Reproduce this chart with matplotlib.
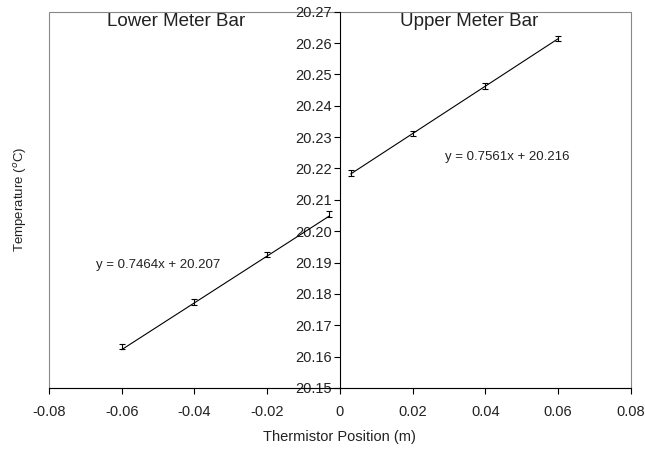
import numpy as np
import matplotlib
matplotlib.use("Agg")
import matplotlib.pyplot as plt
from matplotlib.patches import Rectangle

plt.rcParams['font.family'] = ['Liberation Sans', 'DejaVu Sans']

# Data
lower_x = [-0.06, -0.04, -0.02, -0.003]
lower_t = [20.1632, 20.1775, 20.1925, 20.2055]
upper_x = [0.003, 0.02, 0.04, 0.06]
upper_t = [20.2185, 20.2311, 20.2462, 20.2615]
err = 0.0009

lower_fit = (0.7464, 20.207)
upper_fit = (0.7561, 20.216)

fig = plt.figure(figsize=(6.45, 4.49), dpi=100)
ax = fig.add_axes([0.076, 0.136, 0.902, 0.838])

# trend lines over data range
for xs, (m, b) in ((lower_x, lower_fit), (upper_x, upper_fit)):
    xx = np.array([min(xs), max(xs)])
    ax.plot(xx, m * xx + b, color='black', lw=0.8)

ax.errorbar(lower_x + upper_x, lower_t + upper_t, yerr=err, fmt='none',
            ecolor='black', elinewidth=0.8, capsize=2.5, capthick=0.8)

ax.set_xlim(-0.08, 0.08)
ax.set_ylim(20.15, 20.27)
ax.set_xticks(np.arange(-0.08, 0.081, 0.02))
ax.set_xticklabels(['-0.08', '-0.06', '-0.04', '-0.02', '0', '0.02', '0.04', '0.06', '0.08'])
ax.set_yticks(np.arange(20.15, 20.2701, 0.01))
ax.set_yticklabels(['%.2f' % v for v in np.arange(20.15, 20.2701, 0.01)])

ax.spines['left'].set_position(('data', 0))
ax.spines['left'].set_linewidth(0.8)
ax.spines['bottom'].set_linewidth(0.8)
for s in ('top', 'right'):
    ax.spines[s].set_visible(False)
ax.add_patch(Rectangle((0, 0), 1, 1, transform=ax.transAxes, fill=False,
                       edgecolor='#888888', lw=0.8, zorder=0.5, clip_on=False))

ax.tick_params(axis='both', direction='out', length=4, width=0.8, labelsize=10.5,
               colors='black', labelcolor='#222222')
ax.tick_params(axis='y', pad=2)
ax.tick_params(axis='x', pad=8)

ax.set_xlabel('Thermistor Position (m)', fontsize=10.5, labelpad=8, color='#222222')
ax.set_ylabel('Temperature ($^o$C)', fontsize=9.5, color='#222222')
ax.yaxis.set_label_coords(-0.035, 0.5)

ax.text(-0.045, 20.2668, 'Lower Meter Bar', fontsize=13.5, ha='center', va='center', color='#222222')
ax.text(0.0355, 20.2668, 'Upper Meter Bar', fontsize=13.5, ha='center', va='center', color='#222222')
ax.text(-0.050, 20.1893, 'y = 0.7464x + 20.207', fontsize=9.5, ha='center', va='center', color='#222222')
ax.text(0.046, 20.2237, 'y = 0.7561x + 20.216', fontsize=9.5, ha='center', va='center', color='#222222')

fig.savefig('out.png', dpi=100)
